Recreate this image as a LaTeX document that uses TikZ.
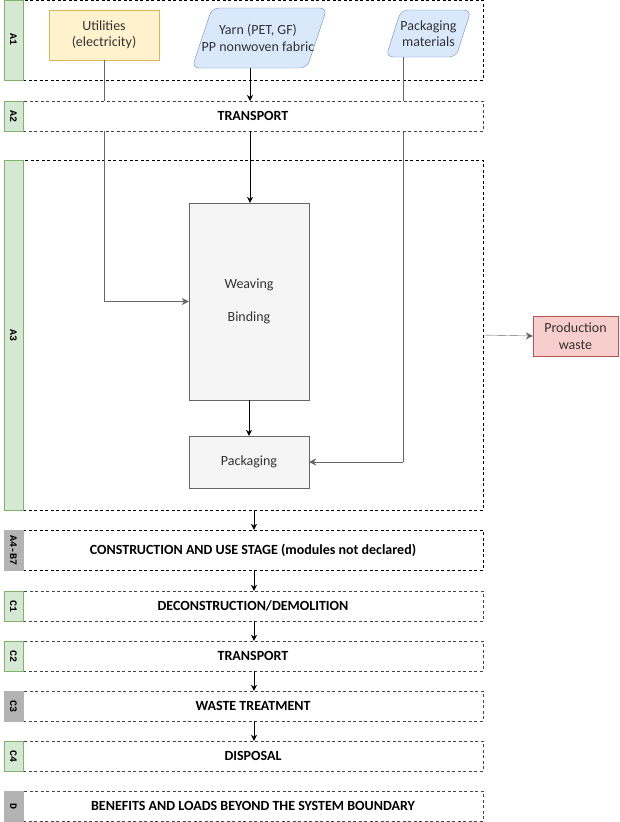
\documentclass[tikz,border=0pt]{standalone}
\usepackage{fontspec}
\setmainfont{Carlito}
\newfontfamily\labfont{Liberation Mono}
\usetikzlibrary{arrows.meta}
\definecolor{gfill}{HTML}{D5E8D4}
\definecolor{gdraw}{HTML}{82B366}
\definecolor{greyfill}{HTML}{B3B3B3}
\definecolor{yfill}{HTML}{FFF2CC}
\definecolor{ydraw}{HTML}{D6B656}
\definecolor{bfill}{HTML}{DAE8FC}
\definecolor{bdraw}{HTML}{6C8EBF}
\definecolor{rfill}{HTML}{F8CECC}
\definecolor{rdraw}{HTML}{B85450}
\definecolor{pfill}{HTML}{F5F5F5}
\definecolor{pdraw}{HTML}{666666}
\definecolor{txt}{HTML}{333333}
\definecolor{dashgrey}{HTML}{444444}
\tikzset{
  stagebox/.style={draw=dashgrey, dashed, dash pattern=on 3pt off 2.5pt, fill=white, minimum width=460pt, inner sep=0pt, font=\fontsize{14}{15}\selectfont\bfseries, text=black},
  greenlab/.style={draw=gdraw, fill=gfill, rotate=-90, minimum height=19pt, inner sep=0pt, font=\labfont\fontsize{10}{10}\selectfont\bfseries},
  greylab/.style={draw=greyfill, fill=greyfill, rotate=-90, minimum height=19pt, inner sep=0pt, font=\labfont\fontsize{10}{10}\selectfont\bfseries},
  procbox/.style={draw=pdraw, fill=pfill, minimum width=120pt, inner sep=0pt, text=txt, font=\fontsize{14}{16}\selectfont},
  txtnode/.style={text=txt, font=\fontsize{14}{16.5}\selectfont, align=center, inner sep=0pt},
  blackarrow/.style={draw=black, -{Stealth[length=6pt,width=6pt]}},
  greyarrow/.style={draw=pdraw, -{Stealth[length=7pt,width=7pt]}},
  greyline/.style={draw=pdraw}
}
\begin{document}
\begin{tikzpicture}[x=1pt,y=-1pt]
\useasboundingbox (0,0) rectangle (619,822);

% A1 and A3 frames (unfilled)
\node[stagebox, draw=black, fill=none, minimum height=80pt] (a1) at (253,40) {};
\node[stagebox, draw=black, fill=none, minimum height=350pt] (a3) at (253,335) {};
\node[greenlab, minimum width=80pt] (a1l) at (13.5,40) {A1};
\node[greenlab, minimum width=350pt] (a3l) at (13.5,335) {A3};

% input nodes
\node[draw=ydraw, fill=yfill, minimum width=110pt, minimum height=50pt, txtnode] (util) at (104,35) {Utilities\\(electricity)};

\draw[draw=bdraw, fill=bfill, rounded corners=7pt] (192,68) -- (212,8) -- (327,8) -- (307,68) -- cycle;
\node[txtnode, minimum width=110pt, minimum height=60pt] (yarn) at (258,38) {Yarn (PET, GF)\\PP nonwoven fabric};

\draw[draw=bdraw, fill=bfill, rounded corners=7pt] (386,57) -- (401,10) -- (471,10) -- (456,57) -- cycle;
\node[txtnode, minimum width=60pt, minimum height=47pt] (pmat) at (428.5,33.5) {Packaging\\materials};

% process boxes
\node[procbox, minimum height=197pt] (weave) at (249,301.5) {};
\node[txtnode] (weavetxt) at (249,285) {Weaving};
\node[txtnode] (bindtxt) at (249,318) {Binding};
\node[procbox, minimum height=52pt] (pack) at (249,462) {Packaging};

\node[draw=rdraw, fill=rfill, minimum width=85pt, minimum height=40pt, txtnode] (waste) at (575.5,336) {Production\\waste};

% connector lines passing behind A2
\coordinate (ucorner) at (104,301.5);
\draw[greyline] (util.south) -- (ucorner);
\draw[greyarrow] (ucorner) -- (weave.west);
\coordinate (pcorner) at (403,462);
\draw[greyline] (403,57) -- (pcorner);
\draw[greyarrow] (pcorner) -- (pack.east);

% A2 band on top
\node[stagebox, minimum height=30pt] (a2) at (253,116) {TRANSPORT};
\node[greenlab, minimum width=30pt] (a2l) at (13.5,116) {A2};

\coordinate (yarnbot) at (250,68);
\coordinate (a2top) at (250,101);
\coordinate (a2bot) at (250,131);
\draw[blackarrow] (yarnbot) -- (a2top);
\draw[blackarrow] (a2bot) -- (weave.north -| a2bot);
\draw[blackarrow] (weave.south) -- (pack.north);
\draw[greyarrow] (a3.east) -- (waste.west);

% lower stages
\node[stagebox, draw=black, minimum height=40pt] (a4) at (253,550) {CONSTRUCTION AND USE STAGE (modules not declared)};
\node[greylab, minimum width=40pt] (a4l) at (13.5,550) {A4-B7};
\node[stagebox, minimum height=30pt] (c1) at (253,606) {DECONSTRUCTION/DEMOLITION};
\node[greenlab, minimum width=30pt] (c1l) at (13.5,606) {C1};
\node[stagebox, minimum height=30pt] (c2) at (253,656) {TRANSPORT};
\node[greenlab, minimum width=30pt] (c2l) at (13.5,656) {C2};
\node[stagebox, minimum height=30pt] (c3) at (253,706) {WASTE TREATMENT};
\node[greylab, minimum width=30pt] (c3l) at (13.5,706) {C3};
\node[stagebox, minimum height=30pt] (c4) at (253,756) {DISPOSAL};
\node[greenlab, minimum width=30pt] (c4l) at (13.5,756) {C4};
\node[stagebox, minimum height=30pt] (d) at (253,806) {BENEFITS AND LOADS BEYOND THE SYSTEM BOUNDARY};
\node[greylab, minimum width=30pt] (dl) at (13.5,806) {D};

\coordinate (ax) at (254,0);
\draw[blackarrow] (a3.south -| ax) -- (a4.north -| ax);
\draw[blackarrow] (a4.south -| ax) -- (c1.north -| ax);
\draw[blackarrow] (c1.south -| ax) -- (c2.north -| ax);
\draw[blackarrow] (c2.south -| ax) -- (c3.north -| ax);
\draw[blackarrow] (c3.south -| ax) -- (c4.north -| ax);
\end{tikzpicture}
\end{document}
